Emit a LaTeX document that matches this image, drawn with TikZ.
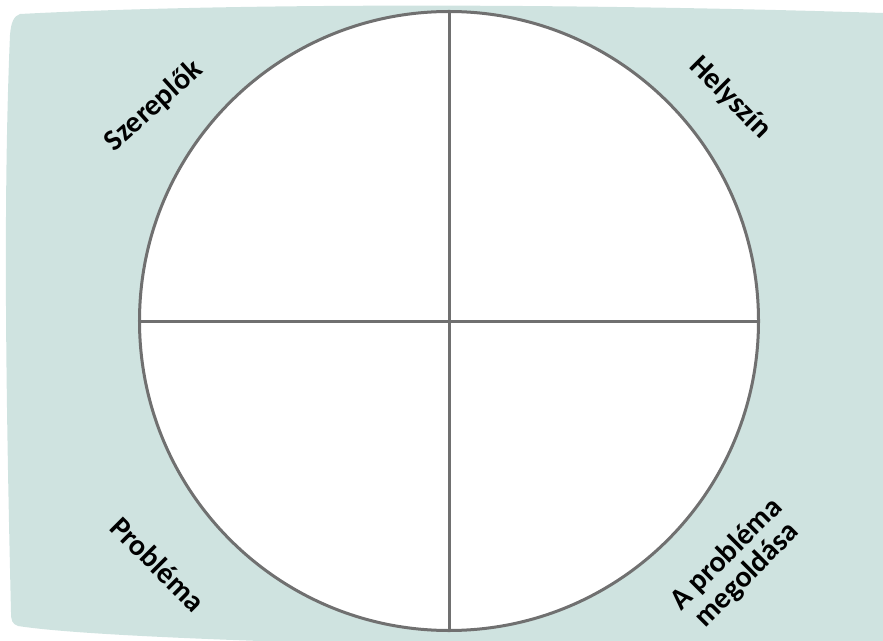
\documentclass[tikz,border=0pt]{standalone}
\usepackage{fontspec}
\setmainfont{Carlito}
\usepackage{xcolor}
\usetikzlibrary{positioning}
\definecolor{bgteal}{HTML}{CFE3E0}
\definecolor{rimgray}{HTML}{707070}

\begin{document}
\begin{tikzpicture}[
    x=1bp, y=-1bp,
    rim/.style={draw=rimgray, line width=3bp},
    wheel/.style={circle, rim, fill=white, minimum size=619bp, inner sep=0pt},
    tag/.style={font=\fontsize{30}{29}\selectfont\bfseries, align=center, inner sep=0pt}
]
\useasboundingbox (0,0) rectangle (883,641);
% background sheet
\fill[bgteal] (20,14) .. controls (250,2) and (600,4) .. (883,13) -- (883,641) -- (260,641)
    .. controls (120,636) and (50,631) .. (18,626) .. controls (12,624) and (11,620) .. (11,612)
    .. controls (6,400) and (3,200) .. (10,35) .. controls (11,22) and (14,16) .. (20,14) -- cycle;

\node[wheel] (wheel) at (449,321) {};
\draw[rim] (wheel.north) -- (wheel.south);
\draw[rim] (wheel.west) -- (wheel.east);

\node[tag, rotate=42] (actors) at (154,106) {Szereplők};
\node[tag, rotate=-45] (place) at (730,98) {Helyszín};
\node[tag, rotate=-45] (problem) at (158,564) {Probléma};
\node[tag, rotate=45] (solution) at (737,565) {A probléma\\megoldása};
\end{tikzpicture}
\end{document}
